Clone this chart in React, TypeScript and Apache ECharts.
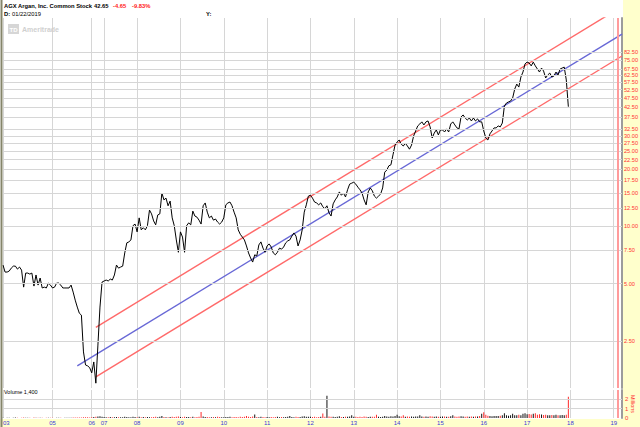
import React, { useEffect, useRef } from 'react';
import * as echarts from 'echarts';

// ---- data ----
const yearLabels = ['03', '05', '06', '07', '08', '09', '10', '11', '12', '13', '14', '15', '16', '17', '18', '19'];
const yearIndex = [0, 24, 43, 49, 65, 86, 107, 128, 149, 170, 191, 212, 233, 254, 275, 296];
const axisSlots = 301;

const priceTicks = [82.5, 75, 67.5, 62.5, 57.5, 52.5, 47.5, 42.5, 37.5, 32.5, 30, 27.5, 25, 22.5, 20, 17.5, 15, 12.5, 10, 7.5, 5, 2.5];
const volumeTicks = [1, 2];

const closes = [
  6.27, 5.76, 5.76, 5.83, 6.04, 6.19, 6.19, 5.97, 6.12, 5.9,
  4.8, 5.69, 5.69, 5.62, 5.69, 4.86, 5.56, 4.92, 5.36, 4.75,
  4.8, 4.75, 5.04, 4.92, 4.75, 4.8, 5.04, 5.04, 4.92, 4.75,
  4.75, 4.75, 4.75, 4.92, 4.52, 4.1, 3.77, 3.5, 3.42, 2.19,
  1.87, 1.85, 1.81, 1.7, 1.94, 1.5, 2.38, 3.77, 5.1, 5.17,
  5.23, 5.17, 5.29, 5.23, 5.56, 6.27, 6.04, 6.12, 6.19, 7.26,
  8.2, 8.3, 8.5, 10.1, 10.3, 9.37, 11.1, 9.6, 9.85, 9.6,
  10.1, 12.2, 11.65, 10.7, 10.2, 11.5, 11.65, 15.0, 13.8, 14.1,
  12.85, 13.6, 11.1, 10.1, 8.5, 7.32, 9.37, 8.8, 7.32, 10.1,
  10.45, 10.2, 12.05, 11.35, 11.2, 10.8, 10.3, 12.85, 13.3, 11.9,
  11.1, 11.35, 10.8, 10.95, 10.55, 10.3, 10.55, 11.1, 13.0, 13.3,
  13.45, 12.85, 11.9, 11.1, 9.6, 9.1, 8.8, 8.5, 7.9, 7.26,
  6.83, 6.5, 7.1, 7.0, 8.0, 8.3, 7.7, 7.32, 7.9, 8.1,
  7.8, 7.26, 7.1, 7.32, 7.7, 7.6, 7.8, 8.2, 8.4, 8.5,
  8.9, 9.25, 8.9, 7.9, 8.5, 9.6, 11.9, 13.0, 14.45, 14.6,
  14.1, 13.45, 13.3, 13.0, 13.3, 12.7, 12.4, 12.85, 11.8, 11.35,
  13.15, 13.8, 14.3, 15.2, 14.6, 15.0, 14.3, 15.6, 16.7, 16.9,
  17.1, 16.7, 16.1, 15.6, 15.0, 13.8, 13.0, 15.2, 15.95, 15.4,
  14.45, 14.1, 14.45, 14.8, 15.95, 19.3, 19.8, 20.85, 21.1, 23.8,
  26.8, 27.8, 28.5, 27.1, 26.5, 27.4, 26.5, 25.5, 26.8, 29.9,
  31.8, 33.8, 34.6, 35.5, 34.2, 35.5, 35.9, 33.4, 29.2, 31.0,
  32.2, 30.3, 32.2, 32.2, 31.4, 32.6, 31.4, 34.6, 35.5, 34.2,
  33.0, 32.6, 37.7, 38.6, 37.2, 36.3, 37.2, 35.9, 37.2, 35.9,
  36.8, 35.5, 35.5, 31.8, 29.2, 28.5, 30.7, 31.8, 33.0, 33.0,
  33.8, 33.4, 35.0, 43.0, 44.6, 45.2, 45.7, 47.4, 52.8, 56.1,
  54.1, 61.1, 64.9, 71.6, 73.2, 72.4, 69.9, 73.2, 69.9, 67.3,
  64.9, 68.1, 65.7, 60.4, 62.6, 64.1, 61.1, 61.9, 64.9, 62.6,
  67.3, 68.1, 68.9, 59.0, 42.65,
];

// volume in millions of shares
const volumes = [
  0.02, 0.01, 0.03, 0.02, 0.01, 0.02, 0.04, 0.02, 0.01, 0.03,
  0.05, 0.02, 0.03, 0.02, 0.01, 0.04, 0.02, 0.03, 0.02, 0.02,
  0.01, 0.02, 0.03, 0.02, 0.02, 0.01, 0.03, 0.02, 0.02, 0.01,
  0.02, 0.02, 0.03, 0.02, 0.04, 0.05, 0.06, 0.05, 0.04, 0.08,
  0.09, 0.07, 0.06, 0.08, 0.1, 0.12, 0.15, 0.18, 0.12, 0.1,
  0.09, 0.08, 0.1, 0.07, 0.09, 0.11, 0.08, 0.07, 0.09, 0.12,
  0.1, 0.09, 0.08, 0.13, 0.1, 0.09, 0.12, 0.08, 0.1, 0.09,
  0.11, 0.09, 0.08, 0.1, 0.12, 0.09, 0.14, 0.22, 0.1, 0.09,
  0.08, 0.1, 0.12, 0.11, 0.13, 0.15, 0.1, 0.09, 0.14, 0.11,
  0.1, 0.08, 0.12, 0.09, 0.1, 0.13, 0.62, 0.15, 0.11, 0.1,
  0.09, 0.08, 0.1, 0.09, 0.12, 0.1, 0.08, 0.09, 0.11, 0.1,
  0.12, 0.09, 0.1, 0.11, 0.08, 0.13, 0.1, 0.14, 0.22, 0.12,
  0.1, 0.15, 0.38, 0.11, 0.09, 0.12, 0.1, 0.08, 0.1, 0.09,
  0.11, 0.09, 0.1, 0.12, 0.08, 0.1, 0.09, 0.11, 0.13, 0.2,
  0.1, 0.09, 0.12, 0.1, 0.11, 0.15, 0.18, 0.14, 0.12, 0.13,
  0.1, 0.12, 0.09, 0.11, 0.14, 0.48, 0.12, 2.35, 0.15, 0.12,
  0.14, 0.1, 0.12, 0.18, 0.11, 0.1, 0.13, 0.12, 0.15, 0.3,
  0.12, 0.14, 0.11, 0.13, 0.1, 0.15, 0.12, 0.11, 0.14, 0.12,
  0.13, 0.35, 0.12, 0.1, 0.14, 0.2, 0.15, 0.13, 0.18, 0.16,
  0.2, 0.35, 0.18, 0.15, 0.3, 0.14, 0.16, 0.13, 0.15, 0.14,
  0.17, 0.15, 0.28, 0.16, 0.14, 0.15, 0.13, 0.18, 0.16, 0.14,
  0.15, 0.13, 0.14, 0.16, 0.15, 0.12, 0.14, 0.18, 0.3, 0.15,
  0.14, 0.16, 0.18, 0.15, 0.14, 0.16, 0.13, 0.15, 0.14, 0.17,
  0.15, 0.2, 0.45, 0.6, 0.35, 0.25, 0.2, 0.18, 0.2, 0.22,
  0.2, 0.25, 0.3, 0.5, 0.3, 0.25, 0.28, 0.45, 0.3, 0.28,
  0.35, 0.3, 0.45, 0.5, 0.4, 0.42, 0.38, 0.45, 0.5, 0.35,
  0.4, 0.38, 0.32, 0.35, 0.3, 0.28, 0.32, 0.3, 0.35, 0.3,
  0.28, 0.32, 0.3, 0.35, 2.25,
];

// linear regression channel (index, price)
const midLine = [[36, 1.85], [300, 102.8]];
const upperLine = [[45, 2.95], [300, 143.5]];
const lowerLine = [[45, 1.62], [300, 78.8]];
const cursorIndex = 298;

const PRICE_MIN = 1.415;
const PRICE_MAX = 124.85;
const VOL_MAX = 2.95;
const FONT = 'Liberation Sans';

export default function App() {
  const ref = useRef<HTMLDivElement>(null);
  useEffect(() => {
    const chart = echarts.init(ref.current!, null, { renderer: 'svg' });
    const cats = Array.from({ length: axisSlots }, (_, i) => String(i));
    const labelAt = new Map<number, string>(yearIndex.map((idx, k) => [idx, yearLabels[k]]));
    const isYear = (i: number) => labelAt.has(i);
    const volData = volumes.map((v, i) => ({
      value: v,
      itemStyle: { color: i > 0 && closes[i] < closes[i - 1] ? '#ff2a2a' : '#111' },
    }));
    const gridLine = { color: '#d6d6d6', width: 1 };
    const cursorStyle = { color: '#ff9c9c', width: 2, type: 'solid' };
    const txt = (text: string, x: number, y: number, color: string, bold: boolean, size = 5.8, extra: any = {}) => ({
      type: 'text',
      x,
      y,
      z: 50,
      ...extra,
      style: {
        text,
        fill: color,
        font: `${bold ? 'bold ' : ''}${size}px ${FONT}`,
        textAlign: extra.center ? 'center' : 'left',
        textVerticalAlign: 'middle',
        align: extra.center ? 'center' : 'left',
        verticalAlign: 'middle',
      },
    });

    chart.setOption({
      animation: false,
      backgroundColor: '#ffffff',
      textStyle: { fontFamily: FONT },
      grid: [
        { left: 3, right: 18, top: 18, height: 370, containLabel: false, outerBoundsMode: 'none' },
        { left: 3, right: 18, top: 390, height: 28, containLabel: false, outerBoundsMode: 'none' },
      ],
      xAxis: [
        {
          type: 'category', gridIndex: 0, data: cats, boundaryGap: false,
          axisLine: { show: false }, axisTick: { show: false }, axisLabel: { show: false },
          splitLine: { show: true, interval: (i: number) => isYear(i), lineStyle: gridLine },
        },
        {
          type: 'category', gridIndex: 1, data: cats, boundaryGap: false,
          axisLine: { show: false }, axisTick: { show: false },
          axisLabel: {
            show: true, interval: (i: number) => isYear(i),
            formatter: (_v: string, i: number) => labelAt.get(i) ?? '',
            color: '#3b3bd8', fontSize: 6, margin: 2, alignMinLabel: 'left', fontFamily: FONT,
          },
          splitLine: { show: true, interval: (i: number) => isYear(i), lineStyle: gridLine },
        },
      ],
      yAxis: [
        {
          type: 'log', gridIndex: 0, logBase: 10, min: PRICE_MIN, max: PRICE_MAX, position: 'right',
          axisLine: { show: true, lineStyle: { color: '#9c9c9c', width: 2 } },
          axisTick: { show: false }, axisLabel: { show: false }, splitLine: { show: false },
        },
        {
          type: 'value', gridIndex: 1, min: 0, max: VOL_MAX, interval: 1, position: 'right',
          axisLine: { show: true, lineStyle: { color: '#9c9c9c', width: 2 } },
          axisTick: { show: false },
          axisLabel: {
            color: '#ff3333', fontSize: 6, margin: 3, fontFamily: FONT,
            formatter: (v: number) => (Number.isInteger(v) ? String(v) : ''),
          },
          splitLine: { show: false },
        },
      ],
      series: [
        {
          type: 'line', xAxisIndex: 0, yAxisIndex: 0, data: upperLine, symbol: 'none', z: 1,
          lineStyle: { color: '#ff6a6a', width: 1.4 },
          markLine: {
            silent: true, symbol: ['none', 'none'],
            lineStyle: { color: '#d6d6d6', width: 1, type: 'solid' },
            label: {
              show: true, position: 'end', distance: 2,
              formatter: (p: any) => Number(p.value).toFixed(2),
              color: '#ff3333', fontSize: 5.6, fontFamily: FONT,
            },
            data: priceTicks.map((v) => ({ yAxis: v })),
          },
        },
        {
          type: 'line', xAxisIndex: 0, yAxisIndex: 0, data: lowerLine, symbol: 'none', z: 2,
          lineStyle: { color: '#ff6a6a', width: 1.4 },
        },
        {
          type: 'line', xAxisIndex: 0, yAxisIndex: 0, data: midLine, symbol: 'none', z: 2,
          lineStyle: { color: '#6868d6', width: 1.4 },
        },
        {
          type: 'line', xAxisIndex: 0, yAxisIndex: 0, data: closes, symbol: 'none', z: 3,
          lineStyle: { color: '#000000', width: 1 },
          markLine: {
            silent: true, symbol: ['none', 'none'], label: { show: false },
            lineStyle: cursorStyle,
            data: [[{ coord: [cursorIndex, PRICE_MAX] }, { coord: [cursorIndex, PRICE_MIN] }]],
          },
        },
        {
          type: 'bar', xAxisIndex: 1, yAxisIndex: 1, data: volData, barWidth: 1, z: 3,
          markLine: {
            silent: true, symbol: ['none', 'none'], label: { show: false },
            lineStyle: { color: '#d6d6d6', width: 1, type: 'solid' },
            data: [
              ...volumeTicks.map((v) => ({ yAxis: v })),
              [
                { coord: [cursorIndex, VOL_MAX], lineStyle: cursorStyle },
                { coord: [cursorIndex, 0], lineStyle: cursorStyle },
              ],
            ],
          },
        },
      ],
      graphic: [
        { type: 'rect', z: -5, shape: { x: 623, y: 0, width: 17, height: 427 }, style: { fill: '#ffffcc' } },
        { type: 'rect', z: -5, shape: { x: 0, y: 419, width: 623, height: 8 }, style: { fill: '#ffffcc' } },
        { type: 'line', z: 40, shape: { x1: 1.5, y1: 0, x2: 1.5, y2: 427 }, style: { stroke: '#85856a', lineWidth: 2 } },
        { type: 'rect', z: 10, shape: { x: 8, y: 24, width: 11, height: 10 }, style: { fill: '#d6d6d6' } },
        txt('TD', 9.5, 29.5, '#ffffff', true, 6),
        txt('Ameritrade', 22, 29.5, '#d0d0d0', true, 7),
        txt('AGX Argan, Inc. Common Stock', 4, 5.5, '#000000', true),
        txt('42.65', 94, 5.5, '#000000', true),
        txt('-4.65', 113, 5.5, '#ff1a1a', true),
        txt('-9.83%', 132, 5.5, '#ff1a1a', true),
        txt('D:', 4, 14, '#000000', true),
        txt('01/22/2019', 12, 14, '#000000', false),
        txt('Y:', 206, 14, '#000000', true),
        txt('Volume 1,400', 4, 391.5, '#000000', false, 5.5),
        txt('Millions', 632.5, 404, '#ff3333', false, 5.4, { center: true, rotation: -Math.PI / 2 }),
      ],
    });
    return () => chart.dispose();
  }, []);
  return <div ref={ref} style={{ position: 'fixed', left: 0, top: 0, width: 640, height: 427 }} />;
}
